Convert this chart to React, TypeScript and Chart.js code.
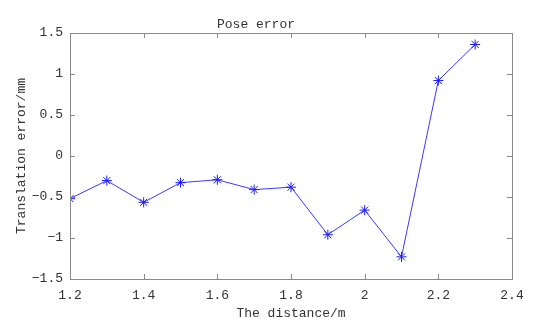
import React, { useEffect, useRef } from "react";
import { Chart, registerables } from "chart.js";

Chart.register(...registerables);

const distances = [1.2, 1.3, 1.4, 1.5, 1.6, 1.7, 1.8, 1.9, 2.0, 2.1, 2.2, 2.3];
const errors = [-0.52, -0.3, -0.565, -0.325, -0.29, -0.41, -0.38, -0.96, -0.66, -1.23, 0.92, 1.36];
const titleText = "Pose error";
const xTitle = "The distance/m";
const yTitle = "Translation error/mm";
const xTicks = [1.2, 1.4, 1.6, 1.8, 2.0, 2.2, 2.4];
const yTicks = [-1.5, -1, -0.5, 0, 0.5, 1, 1.5];

const FONT = "'Liberation Mono', 'DejaVu Sans Mono', monospace";
const TEXT = "#333333";
const AXIS = "#8a8a8a";

const fmt = (v: number) => {
  const s = String(Math.round(v * 10) / 10);
  return s.startsWith("-") ? "\u2212" + s.slice(1) : s;
};

const boxPlugin = {
  id: "boxTicks",
  afterDatasetsDraw(chart: any) {
    const { ctx, chartArea: a, scales } = chart;
    ctx.save();
    ctx.strokeStyle = AXIS;
    ctx.lineWidth = 1;
    ctx.strokeRect(Math.round(a.left) + 0.5, Math.round(a.top) + 0.5, Math.round(a.right - a.left), Math.round(a.bottom - a.top));
    const L = 5;
    ctx.beginPath();
    xTicks.forEach((t) => {
      const x = Math.round(scales.x.getPixelForValue(t)) + 0.5;
      ctx.moveTo(x, a.bottom);
      ctx.lineTo(x, a.bottom - L);
      ctx.moveTo(x, a.top);
      ctx.lineTo(x, a.top + L);
    });
    yTicks.forEach((t) => {
      const y = Math.round(scales.y.getPixelForValue(t)) + 0.5;
      ctx.moveTo(a.left, y);
      ctx.lineTo(a.left + L, y);
      ctx.moveTo(a.right, y);
      ctx.lineTo(a.right - L, y);
    });
    ctx.stroke();
    ctx.restore();
  },
};

export default function App() {
  const ref = useRef<HTMLCanvasElement | null>(null);
  useEffect(() => {
    document.body.style.margin = "0";
    const c = ref.current!;
    const chart = new Chart(c, {
      type: "line",
      data: {
        datasets: [
          {
            data: distances.map((d, i) => ({ x: d, y: errors[i] })),
            borderColor: "#3a3aff",
            borderWidth: 1,
            pointStyle: "star",
            pointRadius: 5,
            pointBorderColor: "#1a1aff",
            pointBorderWidth: 1,
            pointBackgroundColor: "#1a1aff",
            tension: 0,
            fill: false,
          },
        ],
      },
      plugins: [boxPlugin],
      options: {
        animation: false,
        responsive: false,
        maintainAspectRatio: false,
        layout: { padding: { left: 0, right: 34, top: 0, bottom: 0 } },
        plugins: {
          legend: { display: false },
          tooltip: { enabled: false },
          title: {
            display: true,
            text: titleText,
            color: TEXT,
            font: { family: FONT, size: 13, weight: "normal" },
            padding: { top: 17, bottom: 0.4 },
          },
        },
        scales: {
          x: {
            type: "linear",
            min: 1.2,
            max: 2.4,
            afterBuildTicks: (s: any) => {
              s.ticks = xTicks.map((v) => ({ value: v }));
            },
            afterFit: (s: any) => {
              s.height = 44;
            },
            grid: { display: false, drawTicks: false },
            border: { display: false },
            ticks: {
              color: TEXT,
              font: { family: FONT, size: 13 },
              padding: 9,
              maxRotation: 0,
              callback: (v: any) => fmt(Number(v)),
            },
            title: {
              display: true,
              text: xTitle,
              color: TEXT,
              font: { family: FONT, size: 13 },
              padding: { top: 0, bottom: 2 },
            },
          },
          y: {
            type: "linear",
            min: -1.5,
            max: 1.5,
            afterBuildTicks: (s: any) => {
              s.ticks = yTicks.map((v) => ({ value: v }));
            },
            afterFit: (s: any) => {
              s.width = 70;
            },
            grid: { display: false, drawTicks: false },
            border: { display: false },
            ticks: {
              color: TEXT,
              font: { family: FONT, size: 13 },
              padding: 7,
              callback: (v: any) => fmt(Number(v)),
            },
            title: {
              display: true,
              text: yTitle,
              color: TEXT,
              font: { family: FONT, size: 13 },
              padding: { top: 14, bottom: 4 },
            },
          },
        },
      },
    });
    return () => chart.destroy();
  }, []);
  return (
    <div style={{ width: 546, height: 323, background: "#fff" }}>
      <canvas ref={ref} width={546} height={323} style={{ display: "block" }} />
    </div>
  );
}
